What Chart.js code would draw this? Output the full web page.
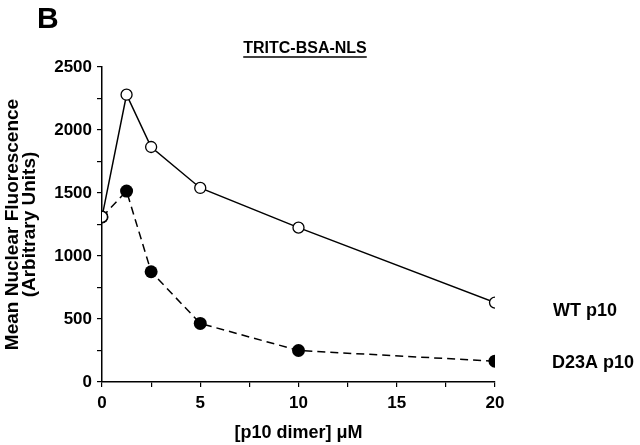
<!DOCTYPE html>
<html>
<head>
<meta charset="utf-8">
<script src="https://cdn.jsdelivr.net/npm/chart.js@4"></script>
<style>
  body { margin: 0; background: #fff; }
</style>
</head>
<body>
<canvas id="myChart" width="640" height="445"></canvas>
<script>
// p10 dimer concentration (uM)
const doses = [0, 1.25, 2.5, 5, 10, 20];
const wtValues = [1310, 2280, 1865, 1540, 1225, 630];
const d23aValues = [1310, 1515, 875, 465, 250, 165];
const seriesNames = ["WT p10", "D23A p10"];
const xTickLabels = [0, 5, 10, 15, 20];
const yTickLabels = [0, 500, 1000, 1500, 2000, 2500];

const FONT = "'Liberation Sans', Arial, sans-serif";

function toPoints(xs, ys) {
  return xs.map((x, i) => ({ x: x, y: ys[i] }));
}

// letters, underlined title and end-of-line series labels
const annotations = {
  id: "annotations",
  afterDraw(chart) {
    const ctx = chart.ctx;
    const xs = chart.scales.x;
    const ys = chart.scales.y;
    ctx.save();
    ctx.fillStyle = "#000";
    ctx.strokeStyle = "#000";

    ctx.font = "bold 30px " + FONT;
    ctx.textAlign = "left";
    ctx.textBaseline = "alphabetic";
    ctx.fillText("B", 37, 28);

    ctx.font = "bold 16px " + FONT;
    ctx.textAlign = "center";
    const tx = 305, ty = 53;
    ctx.fillText("TRITC-BSA-NLS", tx, ty);
    const w = ctx.measureText("TRITC-BSA-NLS").width;
    ctx.lineWidth = 1.5;
    ctx.beginPath();
    ctx.moveTo(tx - w / 2, ty + 4);
    ctx.lineTo(tx + w / 2, ty + 4);
    ctx.stroke();

    ctx.font = "bold 18px " + FONT;
    ctx.textAlign = "left";
    ctx.textBaseline = "middle";
    const last = doses.length - 1;
    const lx = xs.getPixelForValue(doses[last]) + 58;
    ctx.fillText(seriesNames[0], lx, ys.getPixelForValue(wtValues[last]) + 8);
    ctx.fillText(seriesNames[1], lx - 1, ys.getPixelForValue(d23aValues[last]) + 2);
    ctx.restore();
  }
};

const config = {
  type: "line",
  data: {
    datasets: [
      {
        label: seriesNames[0],
        data: toPoints(doses, wtValues),
        borderColor: "#000",
        borderWidth: 1.5,
        pointRadius: 5.5,
        pointBackgroundColor: "#fff",
        pointBorderColor: "#000",
        pointBorderWidth: 1.3,
        tension: 0,
        order: 1
      },
      {
        label: seriesNames[1],
        data: toPoints(doses, d23aValues),
        borderColor: "#000",
        borderWidth: 1.5,
        borderDash: [8, 5],
        pointRadius: 6.5,
        pointBackgroundColor: "#000",
        pointBorderColor: "#000",
        pointBorderWidth: 0,
        tension: 0,
        order: 2
      }
    ]
  },
  options: {
    responsive: false,
    animation: false,
    layout: { padding: { top: 67, right: 145, left: 0, bottom: 0 } },
    plugins: {
      legend: { display: false },
      title: { display: false },
      tooltip: { enabled: false }
    },
    scales: {
      x: {
        type: "linear",
        min: 0,
        max: 20,
        afterFit: (scale) => { scale.height = 63; },
        border: { display: true, color: "#000", width: 1.5 },
        grid: { drawOnChartArea: false, color: "#000", tickLength: 5, lineWidth: 1.2 },
        ticks: {
          stepSize: 2.5,
          color: "#000",
          font: { family: FONT, size: 17, weight: "bold" },
          padding: 6,
          maxRotation: 0,
          callback: (v) => (xTickLabels.includes(v) ? String(v) : "")
        },
        title: {
          display: true,
          text: "[p10 dimer] \u03bcM",
          color: "#000",
          font: { family: FONT, size: 18, weight: "bold" },
          padding: { top: 4, bottom: 1 }
        }
      },
      y: {
        min: 0,
        max: 2500,
        afterFit: (scale) => { scale.width = 102; },
        border: { display: true, color: "#000", width: 1.5 },
        grid: { drawOnChartArea: false, color: "#000", tickLength: 5, lineWidth: 1.2 },
        ticks: {
          stepSize: 250,
          color: "#000",
          font: { family: FONT, size: 17, weight: "bold" },
          padding: 5,
          callback: (v) => (yTickLabels.includes(v) ? String(v) : "")
        },
        title: {
          display: true,
          text: ["Mean Nuclear Fluorescence", "(Arbitrary Units)"],
          color: "#000",
          font: { family: FONT, size: 19, weight: "bold", lineHeight: 0.9 },
          padding: { top: 4, bottom: 4 }
        }
      }
    }
  },
  plugins: [annotations]
};

const myChart = new Chart(document.getElementById("myChart"), config);
</script>
</body>
</html>
